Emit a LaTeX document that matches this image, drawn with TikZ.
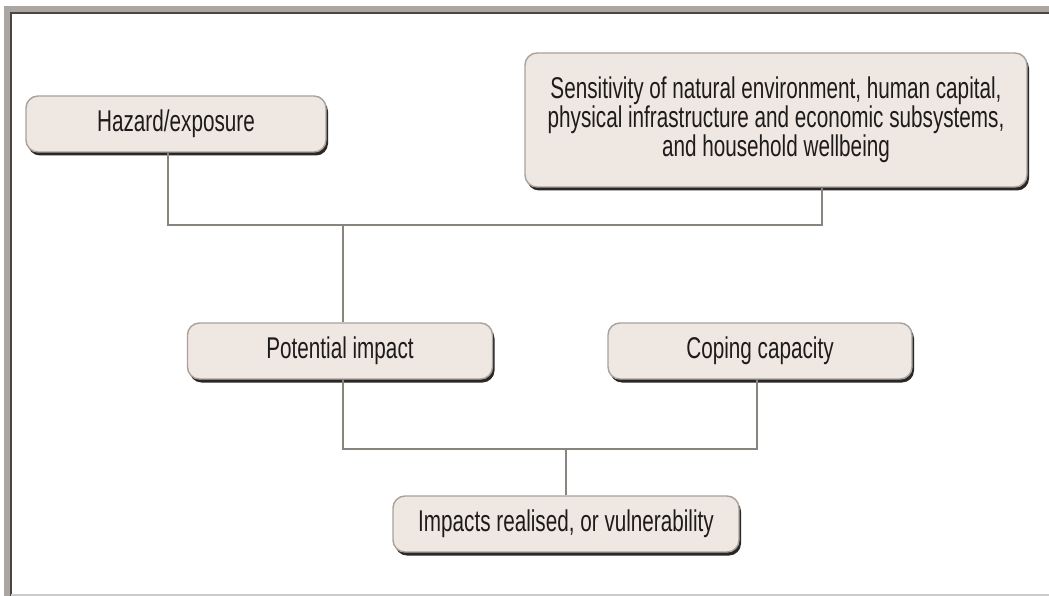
\documentclass[tikz,border=0pt]{standalone}
\usepackage{fontspec}
\setmainfont{Liberation Sans}[FakeStretch=0.69]
\usetikzlibrary{shadows}

\definecolor{boxfill}{HTML}{EEE7E2}
\definecolor{boxedge}{HTML}{A9A29C}
\definecolor{boxshade}{HTML}{2B2724}
\definecolor{linkgray}{HTML}{8A847F}
\definecolor{framelight}{HTML}{ABA6A1}
\definecolor{framedark}{HTML}{4A4643}
\definecolor{inktext}{HTML}{1E1C1B}

\begin{document}
\begin{tikzpicture}[
    x=1pt, y=-1pt,
    stage/.style={rectangle, rounded corners=12pt, draw=boxedge, line width=1.4pt, fill=boxfill,
        minimum height=56pt, align=center, inner sep=4pt, text=inktext,
        font=\fontsize{30}{27.5}\selectfont,
        drop shadow={shadow xshift=2pt, shadow yshift=-3.5pt, fill=boxshade, opacity=1}},
    link/.style={draw=linkgray, line width=2.5pt}
]
    \useasboundingbox (0,0) rectangle (1049,596);
    \fill[white] (0,0) rectangle (1049,596);

    % frame on top, left and bottom
    \draw[framelight, line width=8pt] (7.5,596) -- (7.5,10) -- (1049,10);
    \draw[framedark, line width=2pt] (11,596) -- (11,13) -- (1049,13);
    \draw[black!20, line width=2pt] (11,595) -- (1049,595);

    \node[stage, minimum width=300pt] (haz) at (176,124) {Hazard/exposure};
    \node[stage, minimum width=502pt, minimum height=134pt] (sens) at (776,120)
        {Sensitivity of natural environment, human capital,\\ physical infrastructure and economic subsystems,\\ and household wellbeing};
    \node[stage, minimum width=305pt] (pot) at (340,351) {Potential impact};
    \node[stage, minimum width=304pt] (cope) at (760,351) {Coping capacity};
    \node[stage, minimum width=346pt] (real) at (566,524) {Impacts realised, or vulnerability};

    \coordinate (upper) at (343,225);
    \coordinate (lower) at (566,449);

    \draw[link] ([xshift=-8pt]haz.south) |- (upper) -| ([xshift=46pt]sens.south);
    \draw[link] (upper) -- ([xshift=3pt]pot.north);
    \draw[link] ([xshift=3pt]pot.south) |- (lower) -| ([xshift=-3pt]cope.south);
    \draw[link] (lower) -- (real.north);
\end{tikzpicture}
\end{document}
